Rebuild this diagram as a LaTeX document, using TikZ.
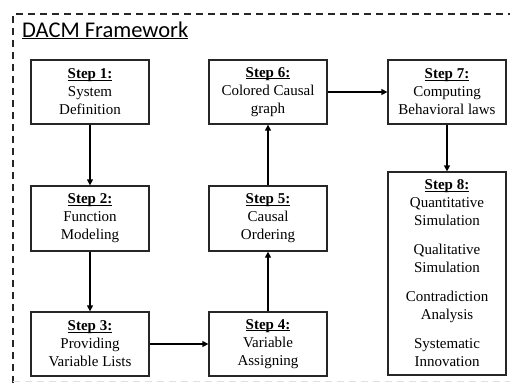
\documentclass[tikz,border=0pt]{standalone}
\usepackage{fontspec}
\setmainfont{Liberation Serif}
\newfontfamily\titlefont{Carlito}
\usetikzlibrary{arrows.meta}
\newcommand\myul[3]{\setbox0\hbox{#3}\rlap{\rule[#1]{\wd0}{#2}}\box0}
\newcommand\steplabel[1]{\myul{-1.6pt}{0.8pt}{\textbf{#1}}}
\begin{document}
\begin{tikzpicture}[x=1pt,y=-1pt,
  stepbox/.style={draw=black!85, line width=1.3pt, minimum width=118pt, minimum height=64pt,
    align=center, font=\fontsize{15}{18}\selectfont, inner sep=0pt, fill=white},
  flow/.style={draw=black, line width=1.3pt, -{Triangle[length=6pt,width=6pt]}},
  frame/.style={draw=black!85, line width=1.6pt, dash pattern=on 7pt off 5pt}]
\useasboundingbox (0,0) rectangle (510,383);
\begin{scope}
\clip (0,0) rectangle (510,383);
\draw[frame] (13,395) -- (13,14) -- (520,14);
\draw[draw=black!12, line width=1pt, dash pattern=on 7pt off 5pt] (13,381) -- (510,381);
\end{scope}
\node[anchor=base west, inner sep=0pt, font=\titlefont\fontsize{22.5}{26}\selectfont] (title) at (22,37) {\myul{-2.2pt}{1.1pt}{DACM Framework}};
\node[stepbox] (s1) at (90,92) {\steplabel{Step 1:}\\System\\Definition};
\node[stepbox, minimum height=65pt] (s2) at (90,218.5) {\steplabel{Step 2:}\\Function\\Modeling};
\node[stepbox] (s3) at (90,344) {\steplabel{Step 3:}\\Providing\\Variable Lists};
\node[stepbox] (s4) at (268,344) {\steplabel{Step 4:}\\Variable\\Assigning};
\node[stepbox, minimum height=65pt] (s5) at (268,218.5) {\steplabel{Step 5:}\\Causal\\Ordering};
\node[stepbox] (s6) at (268,92) {\steplabel{Step 6:}\\Colored Causal\\graph};
\node[stepbox] (s7) at (447,92) {\steplabel{Step 7:}\\Computing\\Behavioral laws};
\node[stepbox, minimum height=203pt] (s8) at (447,273.5) {\steplabel{Step 8:}\\Quantitative\\Simulation\\[11pt]Qualitative\\Simulation\\[11pt]Contradiction\\Analysis\\[11pt]Systematic\\Innovation};
\draw[flow] (s1) -- (s2);
\draw[flow] (s2) -- (s3);
\draw[flow] (s3) -- (s4);
\draw[flow] (s4) -- (s5);
\draw[flow] (s5) -- (s6);
\draw[flow] (s6) -- (s7);
\draw[flow] (s7) -- (s8);
\end{tikzpicture}
\end{document}
